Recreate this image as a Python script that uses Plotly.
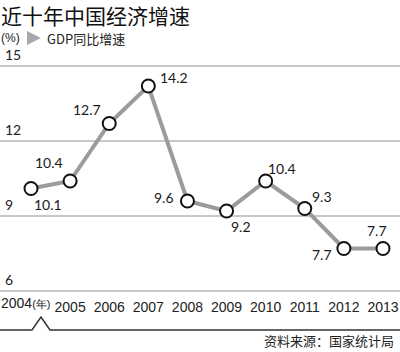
import plotly.graph_objects as go

years = [2004, 2005, 2006, 2007, 2008, 2009, 2010, 2011, 2012, 2013]
gdp = [10.1, 10.4, 12.7, 14.2, 9.6, 9.2, 10.4, 9.3, 7.7, 7.7]
x_tick_text = ["2004(年)", "2005", "2006", "2007", "2008", "2009", "2010", "2011", "2012", "2013"]
y_ticks = [6, 9, 12, 15]
y_tick_text = ["6", "9", "12", "15"]
label_text = ["10.1", "10.4", "12.7", "14.2", "9.6", "9.2", "10.4", "9.3", "7.7", "7.7"]
title_text = "近十年中国经济增速"
unit_text = "(%)"
series_name = "GDP同比增速"
source_text = "资料来源：国家统计局"

# label offsets (pixels) relative to each point
label_shift = [(17, -16), (-21, 19), (-22, 14), (26, 9), (-23, 4), (14, -15), (16, 13), (17, 12), (-22, -6), (-6, 18)]

W, H = 400, 352
top, bottom = 63, 294
y_range = [6 - (bottom - 291) / 25, 15 + (66 - top) / 25]

fig = go.Figure()
fig.add_trace(go.Scatter(
    x=years, y=gdp, mode="lines+markers",
    line=dict(color="#9b9b9b", width=4),
    marker=dict(size=13, color="white", line=dict(color="#111", width=2)),
    cliponaxis=False, showlegend=False, hoverinfo="skip",
))

font_cjk = "Noto Sans CJK SC"
for xv, yv, t, (dx, dy) in zip(years, gdp, label_text, label_shift):
    fig.add_annotation(x=xv, y=yv, text=t, showarrow=False, xshift=dx, yshift=dy,
                       font=dict(family="Lato", size=14, color="#1a1a1a"))

# y tick labels sitting just above their grid lines
for yv, t in zip(y_ticks, y_tick_text):
    fig.add_annotation(xref="paper", yref="y", x=4 / W, y=yv, text=t, showarrow=False,
                       xanchor="left", yanchor="bottom", yshift=2, borderpad=0,
                       font=dict(family="Lato", size=14, color="#222"))

def py(p):
    return (bottom - p) / (bottom - top)

fig.add_annotation(xref="paper", yref="paper", x=0, y=py(15), xanchor="left", yanchor="middle",
                   text=title_text, showarrow=False, borderpad=0,
                   font=dict(family=font_cjk, size=21, color="#111"))
fig.add_annotation(xref="paper", yref="paper", x=0, y=py(38), xanchor="left", yanchor="middle",
                   text=unit_text, showarrow=False, borderpad=0,
                   font=dict(family="Liberation Sans", size=12, color="#222"))
fig.add_annotation(xref="paper", yref="paper", x=46 / W, y=py(38), xanchor="left", yanchor="middle",
                   text=series_name, showarrow=False, borderpad=0,
                   font=dict(family=font_cjk, size=13, color="#222"))
fig.add_annotation(xref="paper", yref="paper", x=396 / W, y=py(340), xanchor="right", yanchor="middle",
                   text=source_text, showarrow=False, font=dict(family=font_cjk, size=13, color="#222"))
# first x label (with unit) placed flush left
fig.add_annotation(xref="paper", yref="paper", x=0, y=py(303), xanchor="left", yanchor="middle",
                   text=x_tick_text[0].replace("(年)", "<span style='font-size:11px'>(年)</span>"),
                   showarrow=False, borderpad=0,
                   font=dict(family="Liberation Sans", size=14, color="#222"))

# legend triangle marker
tri = [(27, 31), (41, 38), (27, 45)]
fig.add_shape(type="path", xref="paper", yref="paper",
              path="M " + " L ".join(f"{px / W:.4f},{py(p):.4f}" for px, p in tri) + " Z",
              fillcolor="#a8a8a8", line=dict(width=0))

# bracket line with caret under the x labels
pts = [(0, 330), (32, 330), (41, 317), (50, 330), (400, 330)]
path = "M " + " L ".join(f"{px / W:.4f},{py(p):.4f}" for px, p in pts)
fig.add_shape(type="path", xref="paper", yref="paper", path=path,
              line=dict(color="#333", width=1.5))

fig.update_layout(
    width=W, height=H,
    margin=dict(l=0, r=0, t=top, b=H - bottom, pad=0),
    plot_bgcolor="white", paper_bgcolor="white",
    xaxis=dict(range=[2003.207, 2013.435], tickmode="array", tickvals=years,
               ticktext=[""] + x_tick_text[1:],
               showgrid=False, zeroline=False, showline=False, ticks="", tickangle=0,
               ticklabelstandoff=3,
               tickfont=dict(family="Liberation Sans", size=14, color="#222"), fixedrange=True),
    yaxis=dict(range=y_range, tickmode="array", tickvals=y_ticks, showticklabels=False,
               showgrid=True, gridcolor="#c8c8c8", gridwidth=1.5, zeroline=False, showline=False,
               ticks="", fixedrange=True),
)

fig.write_html("out.html")
